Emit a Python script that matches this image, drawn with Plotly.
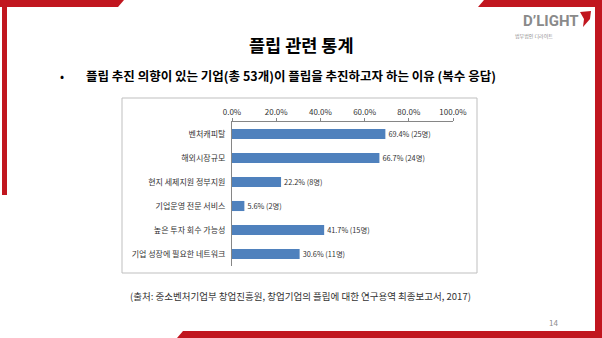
import plotly.graph_objects as go

categories = ["벤처캐피탈", "해외시장규모", "현지 세제지원 정부지원", "기업운영 전문 서비스",
              "높은 투자 회수 가능성", "기업 성장에 필요한 네트워크"]
percent = [69.4, 66.7, 22.2, 5.6, 41.7, 30.6]
counts = [25, 24, 8, 2, 15, 11]
tick_vals = [0, 20, 40, 60, 80, 100]
tick_text = ["0.0%", "20.0%", "40.0%", "60.0%", "80.0%", "100.0%"]

W, H = 602, 338
L, R, T, B = 232, 453, 122, 266
FONT = "Noto Sans CJK KR"
RED = "#C1161F"


def px(x):
    return (x - L) / (R - L)


def py(y):
    return (B - y) / (B - T)


def path(points):
    s = "M " + " L ".join(f"{px(x):.5f},{py(y):.5f}" for x, y in points) + " Z"
    return s


labels = [f"{p:.1f}% ({c}명)" for p, c in zip(percent, counts)]

fig = go.Figure()
fig.add_trace(go.Bar(
    y=categories, x=percent, orientation="h",
    marker=dict(color="#4F81BD", line=dict(width=0)),
    width=0.42,
    text=labels, textposition="outside", cliponaxis=False,
    textfont=dict(family=FONT, size=8, color="#333333"),
))

shapes = []
# chart box
shapes.append(dict(type="rect", xref="paper", yref="paper",
                   x0=px(122), x1=px(477), y0=py(98), y1=py(273),
                   line=dict(color="#BFBFBF", width=1), layer="below"))
# red frame pieces
shapes.append(dict(type="path", xref="paper", yref="paper",
                   path=path([(0, 0), (124, 0), (118, 7), (0, 7)]),
                   fillcolor=RED, line=dict(width=0)))
shapes.append(dict(type="path", xref="paper", yref="paper",
                   path=path([(2, 0), (7, 0), (7, 195), (2, 195)]),
                   fillcolor=RED, line=dict(width=0)))
shapes.append(dict(type="path", xref="paper", yref="paper",
                   path=path([(484, 0), (602, 0), (602, 7), (478, 7)]),
                   fillcolor=RED, line=dict(width=0)))
shapes.append(dict(type="path", xref="paper", yref="paper",
                   path=path([(595, 0), (602, 0), (602, 338), (595, 338)]),
                   fillcolor=RED, line=dict(width=0)))
shapes.append(dict(type="path", xref="paper", yref="paper",
                   path=path([(183, 331), (602, 331), (602, 338), (177, 338)]),
                   fillcolor=RED, line=dict(width=0)))
# logo mark
shapes.append(dict(type="path", xref="paper", yref="paper",
                   path=path([(580, 12), (591, 11), (590, 19), (583, 27), (584, 19)]),
                   fillcolor=RED, line=dict(width=0)))

annotations = [
    dict(text="<b>플립 관련 통계</b>", x=px(301), y=py(45), xref="paper", yref="paper",
         showarrow=False, font=dict(family=FONT, size=17.5, color="#000000"),
         xanchor="center", yanchor="middle"),
    dict(text="•", x=px(62), y=py(75), xref="paper", yref="paper",
         showarrow=False, font=dict(family=FONT, size=12, color="#000000"),
         xanchor="center", yanchor="middle"),
    dict(text="<b>플립 추진 의향이 있는 기업(총 53개)이 플립을 추진하고자 하는 이유 (복수 응답)</b>",
         x=px(84), y=py(75), xref="paper", yref="paper",
         showarrow=False, font=dict(family=FONT, size=12.5, color="#000000"),
         xanchor="left", yanchor="middle"),
    dict(text="(출처: 중소벤처기업부 창업진흥원, 창업기업의 플립에 대한 연구용역 최종보고서, 2017)",
         x=px(128), y=py(296), xref="paper", yref="paper",
         showarrow=False, font=dict(family=FONT, size=9.5, color="#333333"),
         xanchor="left", yanchor="middle"),
    dict(text="14", x=px(553), y=py(322), xref="paper", yref="paper",
         showarrow=False, font=dict(family=FONT, size=8, color="#8C8C8C"),
         xanchor="center", yanchor="middle"),
    dict(text="<b>D’LIGHT</b>", x=px(581), y=py(21), xref="paper", yref="paper",
         showarrow=False, font=dict(family="Roboto", size=15, color="#8A8A8A"),
         xanchor="right", yanchor="middle"),
    dict(text="법무법인 디라이트", x=px(513), y=py(35.5), xref="paper", yref="paper",
         showarrow=False, font=dict(family=FONT, size=5, color="#8A8A8A"),
         xanchor="left", yanchor="middle"),
]

fig.update_layout(
    width=W, height=H,
    margin=dict(l=L, r=W - R, t=T, b=H - B, pad=0),
    paper_bgcolor="white", plot_bgcolor="white",
    showlegend=False,
    shapes=shapes, annotations=annotations,
    xaxis=dict(range=[0, 100], side="top", tickmode="array",
               tickvals=tick_vals, ticktext=tick_text,
               showgrid=False, zeroline=False,
               showline=True, linecolor="#868686", linewidth=1,
               ticks="outside", ticklen=3, tickcolor="#868686",
               tickfont=dict(family=FONT, size=8, color="#333333")),
    yaxis=dict(autorange="reversed", showgrid=False, zeroline=False,
               showline=True, linecolor="#868686", linewidth=1,
               ticks="", ticklabelstandoff=4,
               tickfont=dict(family=FONT, size=8, color="#333333")),
)

fig.write_html("out.html")
